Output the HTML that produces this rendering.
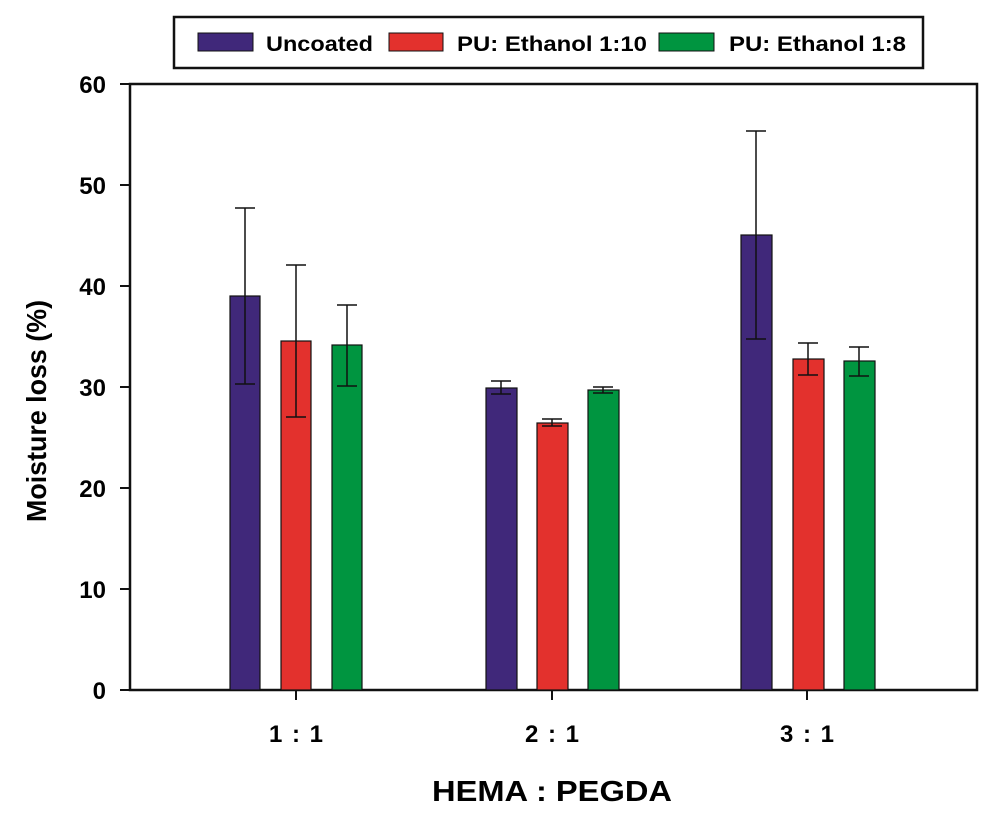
<!DOCTYPE html>
<html><head><meta charset="utf-8"><style>body{margin:0;background:#fff}</style></head><body>
<svg width="995" height="821" xmlns="http://www.w3.org/2000/svg" font-family="Liberation Sans, Arial, sans-serif" font-weight="bold">
<rect width="995" height="821" fill="#fff"/>
<rect x="174" y="17" width="749" height="51" fill="none" stroke="#111" stroke-width="2.5"/>
<rect x="198" y="33" width="55" height="18" fill="#40287a" stroke="#111"/>
<text x="266" y="51" font-size="21" textLength="107" lengthAdjust="spacingAndGlyphs">Uncoated</text>
<rect x="389" y="33" width="54" height="18" fill="#e3312d" stroke="#111"/>
<text x="457" y="51" font-size="21" textLength="190" lengthAdjust="spacingAndGlyphs">PU: Ethanol 1:10</text>
<rect x="659" y="33" width="55" height="18" fill="#009540" stroke="#111"/>
<text x="729" y="51" font-size="21" textLength="177" lengthAdjust="spacingAndGlyphs">PU: Ethanol 1:8</text>
<rect x="130" y="84" width="847" height="606" fill="none" stroke="#111" stroke-width="2.5"/>
<g stroke="#111" stroke-width="2">
<line x1="120" y1="690" x2="130" y2="690"/><line x1="120" y1="589" x2="130" y2="589"/><line x1="120" y1="488" x2="130" y2="488"/><line x1="120" y1="387" x2="130" y2="387"/><line x1="120" y1="286" x2="130" y2="286"/><line x1="120" y1="185" x2="130" y2="185"/><line x1="120" y1="84" x2="130" y2="84"/>
<line x1="296" y1="690" x2="296" y2="700"/><line x1="552" y1="690" x2="552" y2="700"/><line x1="807" y1="690" x2="807" y2="700"/>
</g>
<g font-size="24" text-anchor="end">
<text x="106" y="699">0</text><text x="106" y="598">10</text><text x="106" y="497">20</text><text x="106" y="396">30</text><text x="106" y="295">40</text><text x="106" y="194">50</text><text x="106" y="93">60</text>
</g>
<g font-size="24">
<text x="269" y="742" textLength="54" lengthAdjust="spacing">1 : 1</text><text x="525" y="742" textLength="54" lengthAdjust="spacing">2 : 1</text><text x="780" y="742" textLength="54" lengthAdjust="spacing">3 : 1</text>
</g>
<text x="432" y="801" font-size="29" textLength="240" lengthAdjust="spacingAndGlyphs">HEMA : PEGDA</text>
<text transform="translate(46,522) rotate(-90)" font-size="28" textLength="222" lengthAdjust="spacingAndGlyphs">Moisture loss (%)</text>
<g stroke="#111" stroke-width="1.2">
<rect x="230" y="296" width="30" height="394" fill="#40287a"/>
<rect x="281" y="341" width="30" height="349" fill="#e3312d"/>
<rect x="332" y="345" width="30" height="345" fill="#009540"/>
<rect x="486" y="388" width="31" height="302" fill="#40287a"/>
<rect x="537" y="423" width="31" height="267" fill="#e3312d"/>
<rect x="588" y="390" width="31" height="300" fill="#009540"/>
<rect x="741" y="235" width="31" height="455" fill="#40287a"/>
<rect x="793" y="359" width="31" height="331" fill="#e3312d"/>
<rect x="844" y="361" width="31" height="329" fill="#009540"/>
</g>
<g stroke="#111" stroke-width="1.5" fill="none">
<path d="M245 208V384M235 208h20M235 384h20"/>
<path d="M296 265V417M286 265h20M286 417h20"/>
<path d="M347 305V386M337 305h20M337 386h20"/>
<path d="M501 381V394M491 381h20M491 394h20"/>
<path d="M552 419V426M542 419h20M542 426h20"/>
<path d="M603 387V393M593 387h20M593 393h20"/>
<path d="M756 131V339M746 131h20M746 339h20"/>
<path d="M808 343V375M798 343h20M798 375h20"/>
<path d="M859 347V376M849 347h20M849 376h20"/>
</g>
</svg>
</body></html>
